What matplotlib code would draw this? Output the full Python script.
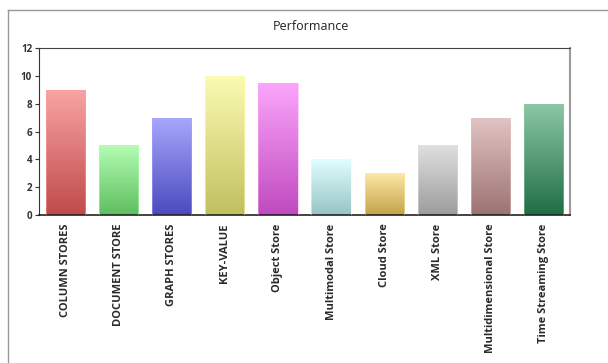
import matplotlib
matplotlib.use("Agg")
import matplotlib.pyplot as plt
import numpy as np
from matplotlib.colors import LinearSegmentedColormap
from matplotlib.patches import Rectangle
from matplotlib.lines import Line2D

categories = ["COLUMN STORES", "DOCUMENT STORE", "GRAPH STORES", "KEY-VALUE",
              "Object Store", "Multimodal Store", "Cloud Store", "XML Store",
              "Multidimensional Store", "Time Streaming Store"]
values = [9, 5, 7, 10, 9.5, 4, 3, 5, 7, 8]
top_colors = ["#F9A4A4", "#B4FDB4", "#A8A8FD", "#FCFCB2", "#FCA6FC",
              "#E0FEFE", "#FDE8A4", "#E0E0E0", "#E2C4C4", "#8EC8A6"]
bottom_colors = ["#C04A4A", "#5EBE5E", "#4A4ABF", "#C0C060", "#BF4ABF",
                 "#98C4C4", "#C4A24A", "#9C9C9C", "#9C7272", "#1E6E44"]

plt.rcParams["font.family"] = ["Open Sans", "DejaVu Sans"]

fig = plt.figure(figsize=(6.08, 3.63), dpi=100)
ax = fig.add_axes([39 / 608, 1 - 215 / 363, 531 / 608, 167 / 363])

x = np.arange(len(categories))
bars = ax.bar(x, values, width=0.74, color="none", edgecolor="none")

# vertical gradient fill for each bar, light at top, dark at bottom
grad = np.linspace(0, 1, 256).reshape(-1, 1)
for bar, c_top, c_bot in zip(bars, top_colors, bottom_colors):
    cmap = LinearSegmentedColormap.from_list("g", [c_bot, c_top])
    x0, y0 = bar.get_x(), bar.get_y()
    w, h = bar.get_width(), bar.get_height()
    img = ax.imshow(grad, cmap=cmap, origin="lower", aspect="auto",
                    extent=[x0, x0 + w, y0, y0 + h], zorder=2)
    img.set_clip_path(bar)
    ax.add_patch(Rectangle((x0, y0), w, h, fill=False,
                           edgecolor=c_top, linewidth=0.6, alpha=0.6, zorder=3))

ax.set_xlim(-0.5, len(categories) - 0.5)
ax.set_ylim(0, 12)
ax.set_yticks(range(0, 13, 2))
ax.set_xticks(x)
ax.set_xticklabels(categories, rotation=90, fontsize=8.0, fontweight="bold",
                   color="#2a2a2a")
ax.tick_params(axis="x", length=0, pad=6)
ax.tick_params(axis="y", length=3, width=0.8, labelsize=7, pad=2, colors="#333333")
for lab in ax.get_yticklabels():
    lab.set_fontweight("bold")

ax.spines["left"].set_color("#333333")
ax.spines["bottom"].set_color("#222222")
ax.spines["bottom"].set_linewidth(1.2)
ax.spines["top"].set_color("#444444")
ax.spines["right"].set_color("#999999")
ax.spines["right"].set_linewidth(1.5)

fig.text(311 / 608, 1 - 27 / 363, "Performance", ha="center", va="center",
         fontsize=9, color="#222222")

# outer frame
fig.add_artist(Line2D([8 / 608, 8 / 608], [0, 1 - 10 / 363], color="#999999",
                      linewidth=1.0, transform=fig.transFigure))
fig.add_artist(Line2D([8 / 608, 1], [1 - 10 / 363, 1 - 10 / 363], color="#999999",
                      linewidth=1.0, transform=fig.transFigure))

fig.savefig("out.png", dpi=100)
